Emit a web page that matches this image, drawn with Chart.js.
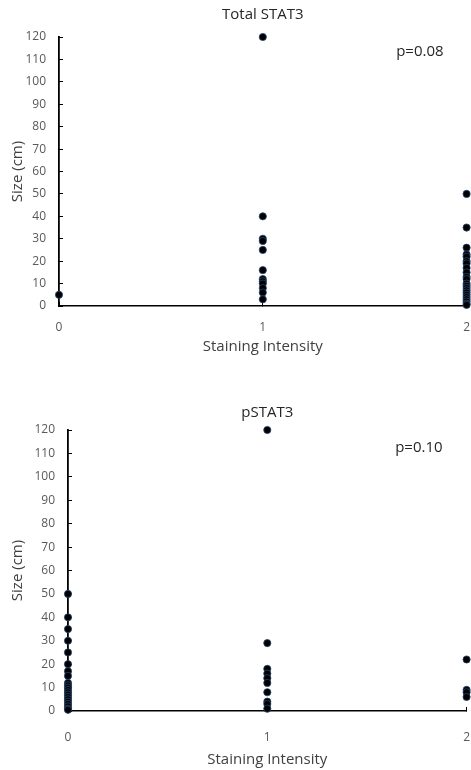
<!DOCTYPE html>
<html>
<head>
<meta charset="utf-8">
<script src="https://cdn.jsdelivr.net/npm/chart.js@4"></script>
<style>
  html, body { margin: 0; padding: 0; background: #fff; }
  .wrap { position: relative; width: 471px; height: 385px; }
  canvas { display: block; }
</style>
</head>
<body>
<div class="wrap"><canvas id="totalChart" width="471" height="385"></canvas></div>
<div class="wrap"><canvas id="pChart" width="471" height="385"></canvas></div>
<script>
'use strict';

// Total STAT3 sizes (cm) per staining intensity
const totalAt0 = [5];
const totalAt1 = [120, 40, 30, 29, 25, 16, 12, 11, 10, 8, 6, 3];
const totalAt2 = [50, 35, 26, 23, 22, 20, 19, 17, 15, 13, 12, 10, 9, 8, 7, 6, 5, 4, 3, 2, 1, 0.5];

// pSTAT3 sizes (cm) per staining intensity
const pAt0 = [50, 40, 35, 30, 25, 20, 17, 15, 12, 11, 10, 9, 8, 7, 6, 5, 4, 3, 2, 1, 0.5];
const pAt1 = [120, 29, 18, 16, 14, 12, 8, 4, 3, 1];
const pAt2 = [22, 9, 8, 6];

const intensities = [0, 1, 2];
const yTicks = [0, 10, 20, 30, 40, 50, 60, 70, 80, 90, 100, 110, 120];

const FONT = '"Open Sans", "Liberation Sans", sans-serif';

function toPoints(groups) {
  const pts = [];
  groups.forEach((vals, i) => vals.forEach(v => pts.push({ x: intensities[i], y: v })));
  return pts;
}

// p-value label in the upper right of the plot
const pLabel = {
  id: 'pLabel',
  afterDraw(chart, args, opts) {
    const { ctx, chartArea } = chart;
    ctx.save();
    ctx.font = '15px ' + FONT;
    ctx.fillStyle = '#262626';
    ctx.textAlign = 'right';
    ctx.textBaseline = 'middle';
    ctx.fillText(opts.text, chartArea.right - opts.dx, chartArea.top + opts.dy);
    ctx.restore();
  }
};

function makeChart(id, cfg) {
  new Chart(document.getElementById(id), {
    type: 'scatter',
    data: {
      datasets: [{
        data: toPoints(cfg.groups),
        pointRadius: 3.6,
        pointHoverRadius: 3.6,
        backgroundColor: '#000',
        borderColor: '#27456e',
        borderWidth: 0.8,
        clip: false
      }]
    },
    plugins: [pLabel],
    options: {
      responsive: false,
      animation: false,
      layout: { padding: 0 },
      plugins: {
        legend: { display: false },
        tooltip: { enabled: false },
        title: {
          display: true,
          text: cfg.title,
          fullSize: false,
          color: '#262626',
          font: { family: FONT, size: 15, weight: 'normal', lineHeight: 1.2 },
          padding: cfg.titlePad
        },
        pLabel: { text: cfg.p, dx: cfg.pdx, dy: cfg.pdy }
      },
      scales: {
        x: {
          type: 'linear',
          min: 0, max: 2,
          afterBuildTicks: s => { s.ticks = intensities.map(v => ({ value: v })); },
          afterFit: s => { s.height = cfg.xHeight; s.paddingLeft = 0; s.paddingRight = 3; },
          grid: { display: true, drawOnChartArea: false, drawTicks: true, tickLength: -4, tickColor: '#000', tickWidth: 1 },
          border: { display: true, color: '#000', width: 1.5 },
          ticks: { color: '#595959', font: { family: FONT, size: 12 }, padding: cfg.xTickPad, maxRotation: 0 },
          title: {
            display: true,
            text: 'Staining Intensity',
            color: '#404040',
            font: { family: FONT, size: 15, lineHeight: 1.2 },
            padding: { top: 0, bottom: cfg.xTitlePad }
          }
        },
        y: {
          min: 0, max: 120,
          afterBuildTicks: s => { s.ticks = yTicks.map(v => ({ value: v })); },
          afterFit: s => { s.width = cfg.yWidth; s.paddingTop = 0; s.paddingBottom = 0; },
          grid: { display: true, drawOnChartArea: false, drawTicks: true, tickLength: -4, tickColor: '#000', tickWidth: 1 },
          border: { display: true, color: '#000', width: 1.8 },
          ticks: { color: '#595959', font: { family: FONT, size: 12 }, padding: 17 },
          title: {
            display: true,
            text: 'Size (cm)',
            color: '#404040',
            font: { family: FONT, size: 15, lineHeight: 1.2 },
            padding: { top: 9, bottom: 0 }
          }
        }
      }
    }
  });
}

makeChart('totalChart', {
  title: 'Total STAT3',
  groups: [totalAt0, totalAt1, totalAt2],
  p: 'p=0.08',
  pdx: 23, pdy: 15,
  titlePad: { top: 6, bottom: 13 },
  yWidth: 59,
  xHeight: 79,
  xTickPad: 18,
  xTitlePad: 29
});

makeChart('pChart', {
  title: 'pSTAT3',
  groups: [pAt0, pAt1, pAt2],
  p: 'p=0.10',
  pdx: 24, pdy: 18,
  titlePad: { top: 19, bottom: 8 },
  yWidth: 68,
  xHeight: 59,
  xTickPad: 23,
  xTitlePad: 1
});
</script>
</body>
</html>
